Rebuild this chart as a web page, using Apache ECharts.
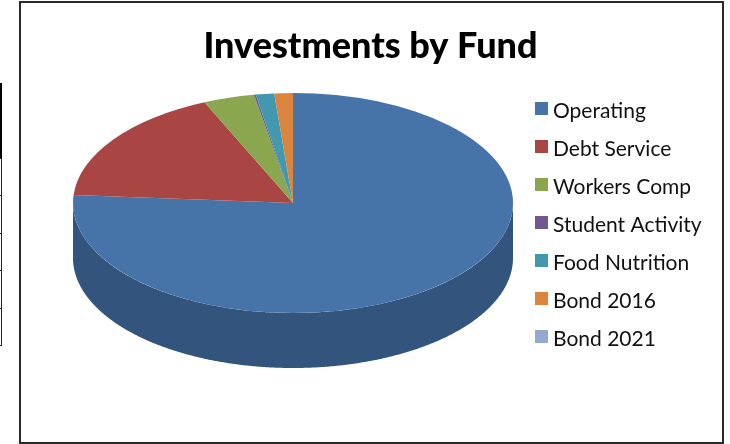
<!DOCTYPE html>
<html><head><meta charset="utf-8">
<style>html,body{margin:0;padding:0;background:#fff}#c{width:730px;height:444px}</style>
<script src="https://cdn.jsdelivr.net/npm/echarts@6/dist/echarts.min.js"></script>
</head><body><div id="c"></div>
<script>
const funds = ['Operating','Debt Service','Workers Comp','Student Activity','Food Nutrition','Bond 2016','Bond 2021'];
const amounts = [76.2,17.25,3.75,0.13,1.35,1.36,0];
const topColors = ['#4673a8','#a94644','#8aa64f','#71588f','#4198af','#db843d','#93a9cf'];
const sideColors = ['#33547d','#7c3331','#65793a','#523f69','#2f6f80','#a0602c','#6b7c98'];
const total = amounts.reduce((a,b)=>a+b,0);
const CX=293, CY=203, RX=220, RY=110, DEPTH=55;
let run=0;
const series = funds.map((name,i)=>{
  const start=run/total*360; run+=amounts[i]; const end=run/total*360;
  return {
    name, type:'custom', coordinateSystem:'none', silent:true, animation:false,
    itemStyle:{color:topColors[i]},
    data:[[start,end]],
    z: 2,
    renderItem(params,api){
      const a0=api.value(0), a1=api.value(1);
      const children=[];
      const f0=Math.max(a0,90), f1=Math.min(a1,270);
      if(f1>f0){
        const pts=[], px=a=>CX+RX*Math.sin(a*Math.PI/180), py=a=>CY-RY*Math.cos(a*Math.PI/180);
        for(let a=f0;a<f1;a+=0.5) pts.push([px(a),py(a)]);
        pts.push([px(f1),py(f1)]);
        for(let k=pts.length-1;k>=0;k--) pts.push([pts[k][0],pts[k][1]+DEPTH]);
        children.push({type:'polygon',shape:{points:pts},style:{fill:sideColors[i]}});
      }
      if(a1>a0){
        children.push({type:'sector',x:CX,y:CY,scaleY:RY/RX,
          shape:{cx:0,cy:0,r0:0,r:RX,startAngle:(a0-90)*Math.PI/180,endAngle:(a1-90)*Math.PI/180,clockwise:true},
          style:{fill:topColors[i]}});
      }
      return {type:'group',children};
    }
  };
});
const chart=echarts.init(document.getElementById('c'),null,{renderer:'canvas'});
const frame={stroke:'#2a2a2a',lineWidth:2,fill:'none'};
const rule=(y)=>({type:'line',shape:{x1:0,y1:y,x2:2,y2:y},style:{stroke:'#222',lineWidth:1},z:0});
chart.setOption({
  backgroundColor:'#fff',
  animation:false,
  title:{text:'Investments by Fund',left:365.5,top:23,textAlign:'center',
    textStyle:{fontFamily:'Lato',fontWeight:900,fontSize:36,color:'#000'}},
  legend:{orient:'vertical',left:535,top:95,padding:0,itemWidth:13,itemHeight:13,itemGap:11,icon:'rect',
    data:funds,selectedMode:false,formatter:'{a|{name}}',
    textStyle:{rich:{a:{fontFamily:'Lato',fontSize:21,color:'#111',lineHeight:24,padding:[6,0,0,0]}}}},
  graphic:[
    {type:'rect',shape:{x:20,y:2,width:703,height:441},style:frame,z:-1},
    {type:'rect',shape:{x:0,y:83,width:2,height:75},style:{fill:'#000'},z:0},
    {type:'line',shape:{x1:1.5,y1:158,x2:1.5,y2:345},style:{stroke:'#222',lineWidth:1},z:0},
    rule(158.5),rule(195.5),rule(233.5),rule(270.5),rule(308.5),rule(345.5)
  ],
  series
});
</script></body></html>
